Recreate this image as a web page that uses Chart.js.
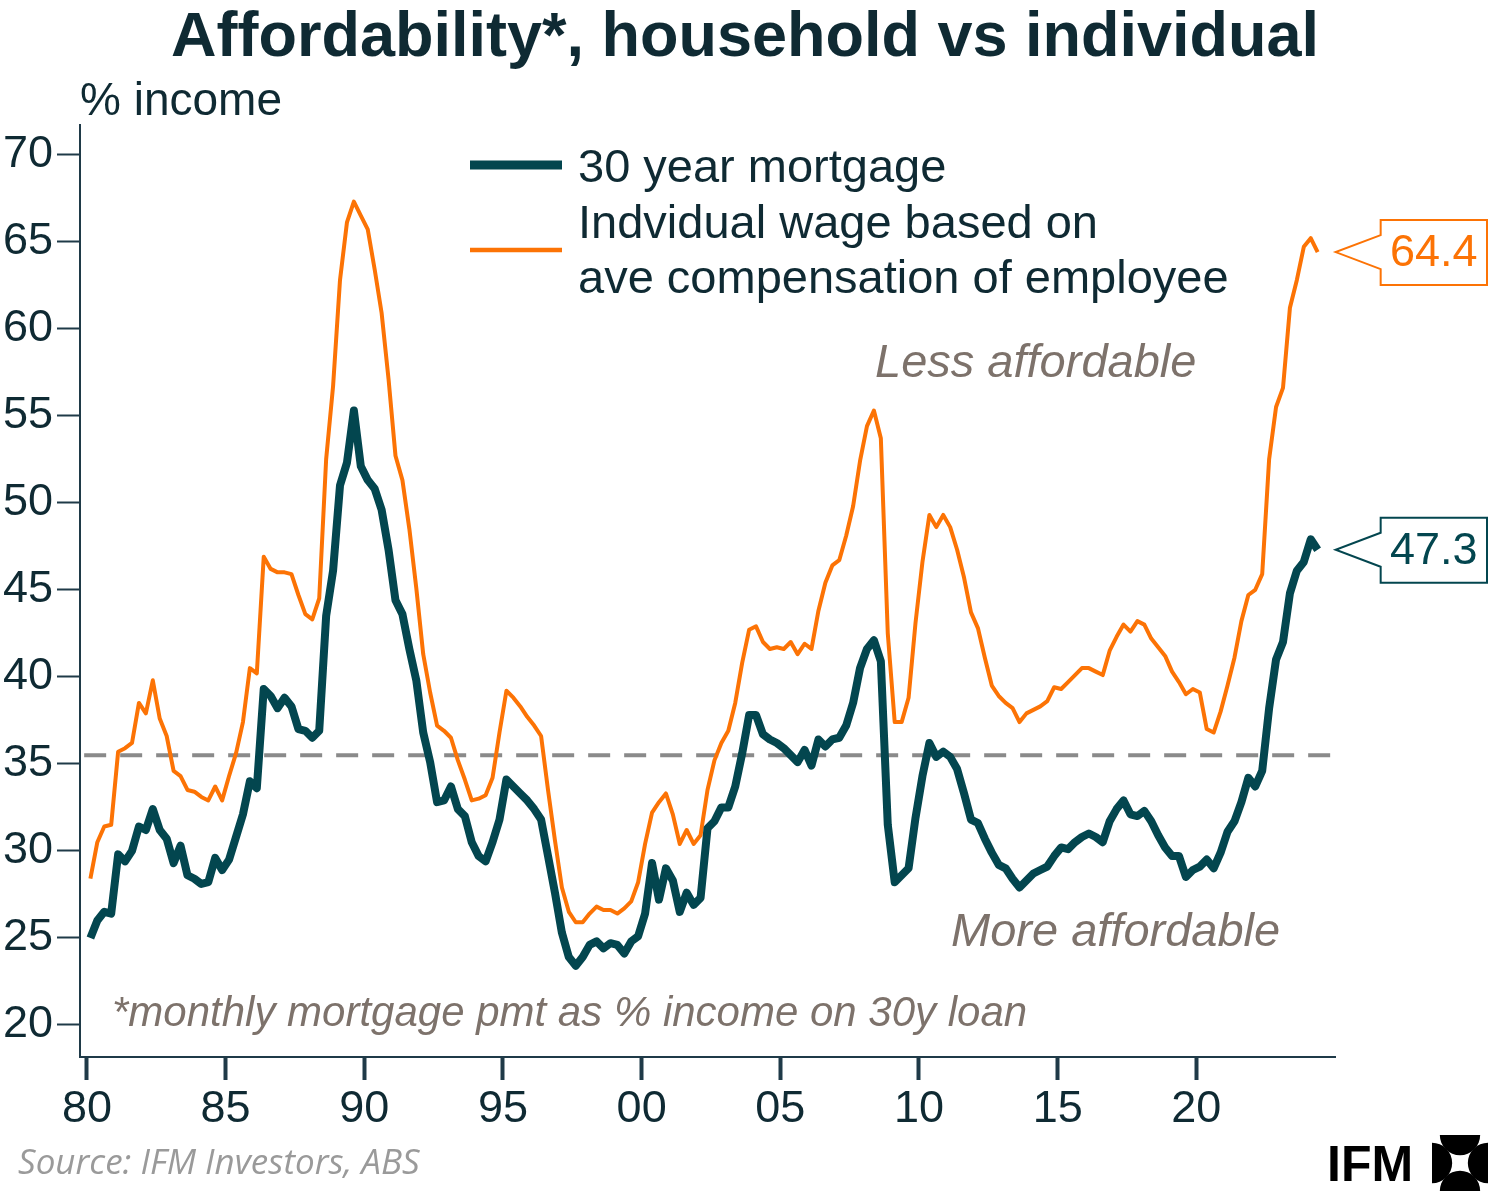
<!DOCTYPE html>
<html>
<head>
<meta charset="utf-8">
<title>Affordability, household vs individual</title>
<script src="https://cdn.jsdelivr.net/npm/chart.js@4.4.1/dist/chart.umd.min.js"></script>
<style>
  html, body { margin: 0; padding: 0; background: #fff; }
  #wrap { width: 1490px; height: 1192px; }
</style>
</head>
<body>
<div id="wrap"><canvas id="affordChart" width="1490" height="1192"></canvas></div>
<script>
// Quarterly data, first quarter 1980 Q1 (plotted at mid-quarter)
const firstYear = 1980;

// 30 year mortgage, monthly payment as % household income
const mortgage30y = [
  25.0, 26.0, 26.5, 26.4,  29.8, 29.4, 30.0, 31.4,  31.2, 32.4, 31.2, 30.7,  29.3, 30.3, 28.6, 28.4,
  28.1, 28.2, 29.6, 28.9,  29.5, 30.8, 32.1, 34.0,  33.6, 39.3, 38.9, 38.2,  38.8, 38.3, 37.0, 36.9,
  36.5, 36.9, 43.5, 46.1,  51.0, 52.3, 55.3, 52.1,  51.3, 50.8, 49.6, 47.3,  44.4, 43.6, 41.6, 39.8,
  36.8, 35.1, 32.8, 32.9,  33.7, 32.4, 32.0, 30.5,  29.7, 29.4, 30.5, 31.8,  34.1, 33.7, 33.3, 32.9,
  32.4, 31.8, 29.7, 27.6,  25.3, 23.9, 23.4, 23.9,  24.6, 24.8, 24.4, 24.7,  24.6, 24.1, 24.8, 25.1,
  26.4, 29.3, 27.2, 29.0,  28.3, 26.5, 27.6, 26.9,  27.3, 31.3, 31.7, 32.5,  32.5, 33.7, 35.6, 37.8,
  37.8, 36.7, 36.4, 36.2,  35.9, 35.5, 35.1, 35.8,  34.9, 36.4, 36.0, 36.4,  36.5, 37.2, 38.5, 40.5,
  41.6, 42.1, 40.9, 31.5,  28.2, 28.6, 29.0, 31.9,  34.3, 36.2, 35.4, 35.7,  35.4, 34.7, 33.3, 31.8,
  31.6, 30.7, 29.9, 29.2,  29.0, 28.4, 27.9, 28.3,  28.7, 28.9, 29.1, 29.7,  30.2, 30.1, 30.5, 30.8,
  31.0, 30.8, 30.5, 31.7,  32.4, 32.9, 32.1, 32.0,  32.3, 31.7, 30.9, 30.2,  29.7, 29.7, 28.5, 28.9,
  29.1, 29.5, 29.0, 29.9,  31.1, 31.7, 32.8, 34.2,  33.7, 34.6, 38.2, 41.0,  42.0, 44.8, 46.1, 46.6,
  47.9, 47.3
];

// Individual wage based on average compensation of employee
const individualWage = [
  28.4, 30.5, 31.4, 31.5,  35.7, 35.9, 36.2, 38.5,  37.9, 39.8, 37.6, 36.6,  34.6, 34.3, 33.5, 33.4,
  33.1, 32.9, 33.7, 32.9,  34.3, 35.6, 37.4, 40.5,  40.2, 46.9, 46.2, 46.0,  46.0, 45.9, 44.7, 43.6,
  43.3, 44.5, 52.5, 56.7,  62.8, 66.1, 67.3, 66.5,  65.7, 63.4, 60.9, 57.1,  52.7, 51.3, 48.5, 45.1,
  41.3, 39.1, 37.2, 36.9,  36.5, 35.2, 34.1, 32.9,  33.0, 33.2, 34.2, 36.8,  39.2, 38.8, 38.3, 37.7,
  37.2, 36.6, 33.5, 30.6,  27.9, 26.5, 25.9, 25.9,  26.4, 26.8, 26.6, 26.6,  26.4, 26.7, 27.1, 28.2,
  30.4, 32.2, 32.8, 33.3,  32.1, 30.4, 31.2, 30.4,  30.9, 33.5, 35.2, 36.2,  36.9, 38.5, 40.8, 42.7,
  42.9, 42.0, 41.6, 41.7,  41.6, 42.0, 41.3, 41.9,  41.6, 43.8, 45.4, 46.4,  46.7, 48.1, 49.8, 52.4,
  54.4, 55.3, 53.7, 42.5,  37.4, 37.4, 38.8, 43.1,  46.6, 49.3, 48.6, 49.3,  48.6, 47.3, 45.7, 43.7,
  42.8, 41.1, 39.5, 38.9,  38.5, 38.2, 37.4, 37.9,  38.1, 38.3, 38.6, 39.4,  39.3, 39.7, 40.1, 40.5,
  40.5, 40.3, 40.1, 41.5,  42.3, 43.0, 42.6, 43.2,  43.0, 42.2, 41.7, 41.2,  40.3, 39.7, 39.0, 39.3,
  39.1, 37.0, 36.8, 38.0,  39.5, 41.1, 43.2, 44.7,  45.0, 45.9, 52.5, 55.5,  56.6, 61.2, 62.8, 64.7,
  65.2, 64.4
];

// long run average reference line
const averageLevel = 35.5;
const averageSpan = [1979.9, 2025];

const xTickYears = [1980, 1985, 1990, 1995, 2000, 2005, 2010, 2015, 2020];
const yTickValues = [20, 25, 30, 35, 40, 45, 50, 55, 60, 65, 70];

const mortgageLabel = "30 year mortgage";
const wageLabel = ["Indvidual wage based on", "ave compensation of employee"];

// colours and fonts
const tealColor = "#03464f";
const orangeColor = "#fc7305";
const darkText = "#0f2a33";
const axisColor = "#1f3a48";
const noteColor = "#7d726b";
const fontFamily = '"Liberation Sans", Arial, sans-serif';

const quarterX = (i) => firstYear + 0.125 + i * 0.25;
const toPoints = (arr) => arr.map((v, i) => ({ x: quarterX(i), y: v }));

// Callout box with pointer, like the value tags on the right
function drawCallout(c, tipX, tipY, text, color) {
  const left = tipX + 45, right = 1487, top = tipY - 32, bottom = tipY + 33;
  c.save();
  c.beginPath();
  c.moveTo(left, top);
  c.lineTo(right, top);
  c.lineTo(right, bottom);
  c.lineTo(left, bottom);
  c.lineTo(left, tipY + 17);
  c.lineTo(tipX, tipY);
  c.lineTo(left, tipY - 17);
  c.closePath();
  c.fillStyle = "#fff";
  c.fill();
  c.lineWidth = 2;
  c.strokeStyle = color;
  c.stroke();
  c.fillStyle = color;
  c.font = "45px " + fontFamily;
  c.textAlign = "center";
  c.textBaseline = "middle";
  c.fillText(text, (left + right) / 2, tipY + 2);
  c.restore();
}

// IFM mark: four half-discs on the sides leaving a white star
function drawLogo(c, x, y, s) {
  c.save();
  c.beginPath();
  c.rect(x, y, s, s);
  c.clip();
  c.fillStyle = "#000";
  const r = s * 0.36;
  [[x + s / 2, y], [x + s, y + s / 2], [x + s / 2, y + s], [x, y + s / 2]].forEach(([cx, cy]) => {
    c.beginPath();
    c.arc(cx, cy, r, 0, Math.PI * 2);
    c.fill();
  });
  c.restore();
}

// Titles, legend, notes, callouts
const decorPlugin = {
  id: "decorPlugin",
  afterDraw(chart) {
    const c = chart.ctx;
    const xs = chart.scales.x;
    const ys = chart.scales.y;
    c.save();
    c.textBaseline = "alphabetic";

    // title
    c.fillStyle = darkText;
    c.textAlign = "center";
    c.font = "bold 63px " + fontFamily;
    c.fillText("Affordability*, household vs individual", 745, 56);

    // axis unit
    c.textAlign = "left";
    c.font = "46px " + fontFamily;
    c.fillText("% income", 80, 115);

    // legend
    c.lineCap = "butt";
    c.strokeStyle = tealColor;
    c.lineWidth = 9;
    c.beginPath(); c.moveTo(470, 165); c.lineTo(562, 165); c.stroke();
    c.strokeStyle = orangeColor;
    c.lineWidth = 4.5;
    c.beginPath(); c.moveTo(470, 250); c.lineTo(562, 250); c.stroke();
    c.font = "47px " + fontFamily;
    c.fillText(mortgageLabel, 578, 182);
    c.fillText(wageLabel[0], 578, 238);
    c.fillText(wageLabel[1], 578, 293);

    // notes
    c.fillStyle = noteColor;
    c.font = "italic 47px " + fontFamily;
    c.fillText("Less affordable", 875, 377);
    c.fillText("More affordable", 951, 946);
    c.font = "italic 42px " + fontFamily;
    c.fillText("*monthly mortgage pmt as % income on 30y loan", 112, 1026);

    // source
    c.fillStyle = "#9a9a9a";
    c.font = 'italic 35px "Open Sans", "DejaVu Sans", sans-serif';
    c.fillText("Source: IFM Investors, ABS", 18, 1174);

    // IFM brand
    c.fillStyle = "#000";
    c.font = "bold 50px " + fontFamily;
    c.fillText("IFM", 1327, 1181);
    drawLogo(c, 1432, 1135, 56);
    c.restore();

    // value callouts at the last points
    const lastX = quarterX(individualWage.length - 1);
    const lastWage = individualWage[individualWage.length - 1];
    const lastMortgage = mortgage30y[mortgage30y.length - 1];
    drawCallout(c, xs.getPixelForValue(lastX) + 18, ys.getPixelForValue(lastWage), lastWage.toFixed(1), orangeColor);
    drawCallout(c, xs.getPixelForValue(lastX) + 18, ys.getPixelForValue(lastMortgage), lastMortgage.toFixed(1), tealColor);
  },
};

const ctx = document.getElementById("affordChart").getContext("2d");

new Chart(ctx, {
  type: "line",
  data: {
    datasets: [
      {
        label: mortgageLabel,
        data: toPoints(mortgage30y),
        borderColor: tealColor,
        borderWidth: 8,
        borderJoinStyle: "round",
        pointRadius: 0,
        tension: 0,
        order: 1,
      },
      {
        label: wageLabel.join(" "),
        data: toPoints(individualWage),
        borderColor: orangeColor,
        borderWidth: 4,
        borderJoinStyle: "round",
        pointRadius: 0,
        tension: 0,
        order: 2,
      },
      {
        label: "average",
        data: averageSpan.map((x) => ({ x: x, y: averageLevel })),
        borderColor: "#8a8a8a",
        borderWidth: 4,
        borderDash: [22, 14],
        pointRadius: 0,
        order: 3,
      },
    ],
  },
  options: {
    responsive: false,
    animation: false,
    layout: { padding: { top: 125, right: 155, left: 0, bottom: 0 } },
    plugins: {
      legend: { display: false },
      tooltip: { enabled: false },
      title: { display: false },
    },
    scales: {
      x: {
        type: "linear",
        min: 1979.75,
        max: 2025,
        afterBuildTicks: (s) => { s.ticks = xTickYears.map((v) => ({ value: v })); },
        afterFit: (s) => { s.height = 135; },
        border: { display: true, color: axisColor, width: 2 },
        grid: { display: true, drawOnChartArea: false, drawTicks: true, tickLength: 23, tickWidth: 4, tickColor: axisColor },
        ticks: {
          color: darkText,
          font: { family: fontFamily, size: 45 },
          padding: 3,
          maxRotation: 0,
          autoSkip: false,
          callback: (v) => String(v % 100).padStart(2, "0"),
        },
      },
      y: {
        type: "linear",
        min: 18.16,
        max: 71.7,
        afterBuildTicks: (s) => { s.ticks = yTickValues.map((v) => ({ value: v })); },
        afterFit: (s) => { s.width = 80; },
        border: { display: true, color: axisColor, width: 2 },
        grid: { display: true, drawOnChartArea: false, drawTicks: true, tickLength: 23, tickWidth: 2, tickColor: axisColor },
        ticks: {
          color: darkText,
          font: { family: fontFamily, size: 45 },
          padding: 4,
        },
      },
    },
  },
  plugins: [decorPlugin],
});
</script>
</body>
</html>
